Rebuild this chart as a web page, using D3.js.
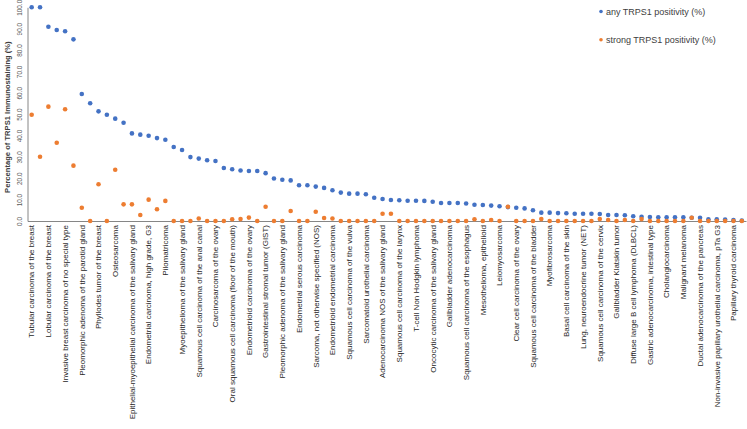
<!DOCTYPE html>
<html>
<head>
<meta charset="utf-8">
<script src="https://cdn.jsdelivr.net/npm/d3@7"></script>
<style>
  body { margin: 0; background: #fff; }
  svg { display: block; font-family: "Liberation Sans", Arial, sans-serif; }
</style>
</head>
<body>
<svg id="chart" width="747" height="429"></svg>
<script>
// Only every second category carries a visible label in the original chart
const shownLabels = [
  "Tubular carcinoma of the breast",
  "Lobular carcinoma of the breast",
  "Invasive breast carcinoma of no special type",
  "Pleomorphic adenoma of the parotid gland",
  "Phyllodes tumor of the breast",
  "Osteosarcoma",
  "Epithelial-myoepithelial carcinoma of the salivary gland",
  "Endometrial carcinoma, high grade, G3",
  "Pilomatricoma",
  "Myoepithelioma of the salivary gland",
  "Squamous cell carcinoma of the anal canal",
  "Carcinosarcoma of the ovary",
  "Oral squamous cell carcinoma (floor of the mouth)",
  "Endometrioid carcinoma of the ovary",
  "Gastrointestinal stromal tumor (GIST)",
  "Pleomorphic adenoma of the salivary gland",
  "Endometrial serous carcinoma",
  "Sarcoma, not otherwise specified (NOS)",
  "Endometrioid endometrial carcinoma",
  "Squamous cell carcinoma of the vulva",
  "Sarcomatoid urothelial carcinoma",
  "Adenocarcinoma NOS of the salivary gland",
  "Squamous cell carcinoma of the larynx",
  "T-cell Non Hodgkin lymphoma",
  "Oncocytic carcinoma of the salivary gland",
  "Gallbladder adenocarcinoma",
  "Squamous cell carcinoma of the esophagus",
  "Mesothelioma, epithelioid",
  "Leiomyosarcoma",
  "Clear cell carcinoma of the ovary",
  "Squamous cell carcinoma of the bladder",
  "Myofibrosarcoma",
  "Basal cell carcinoma of the skin",
  "Lung, neuroendocrine tumor (NET)",
  "Squamous cell carcinoma of the cervix",
  "Gallbladder Klatskin tumor",
  "Diffuse large B cell lymphoma (DLBCL)",
  "Gastric adenocarcinoma, intestinal type",
  "Cholangiocarcinoma",
  "Malignant melanoma",
  "Ductal adenocarcinoma of the pancreas",
  "Non-invasive papillary urothelial carcinoma, pTa G3",
  "Papillary thyroid carcinoma"
];

// any TRPS1 positivity (%)
const anyPos = [
  100, 100, 90.9, 89.4, 88.8, 85.0, 59.4, 55.1, 51.3, 49.7,
  47.9, 46.0, 41.0, 40.4, 39.9, 38.8, 38.0, 34.6, 33.2, 29.9,
  29.2, 28.4, 28.1, 24.8, 24.2, 23.6, 23.4, 23.4, 22.4, 19.9,
  19.3, 19.0, 16.7, 16.7, 16.1, 15.5, 14.4, 13.3, 12.8, 12.8,
  12.5, 10.9, 10.3, 9.8, 9.7, 9.5, 9.5, 9.4, 9.0, 8.4,
  8.4, 8.4, 8.2, 7.6, 7.5, 7.2, 6.9, 6.5, 6.2, 5.9,
  5.0, 3.9, 3.9, 3.7, 3.6, 3.4, 3.4, 3.4, 3.3, 2.8,
  2.8, 2.7, 2.2, 2.0, 1.9, 1.7, 1.7, 1.7, 1.7, 1.5,
  1.5, 0.8, 0.8, 0.7, 0.4, 0.2
];

// strong TRPS1 positivity (%)
const strongPos = [
  49.7, 30.1, 53.5, 36.6, 52.3, 25.9, 6.2, 0, 17.2, 0,
  24.0, 7.8, 7.8, 2.8, 10.0, 5.5, 9.4, 0, 0, 0,
  1.2, 0, 0, 0, 0.8, 0.9, 1.6, 0, 6.7, 0,
  0, 4.7, 0, 0, 4.3, 1.4, 1.2, 0, 0, 0,
  0, 0, 3.4, 3.4, 0, 0, 0, 0, 0, 0,
  0, 0, 0, 0.8, 0, 0.5, 0, 6.7, 0, 0,
  0, 0.9, 0, 0, 0, 0, 0, 0, 0.9, 0.5,
  0, 0.5, 0, 0.9, 0, 0, 0, 0, 0, 1.5,
  0, 0, 0, 0, 0, 0
];

const yTicks = d3.range(0, 101, 10);

const series = [
  { name: "any TRPS1 positivity (%)", values: anyPos, color: "#4472C4" },
  { name: "strong TRPS1 positivity (%)", values: strongPos, color: "#ED7D31" }
];

const svg = d3.select("#chart");
const plotLeft = 27.5, plotRight = 746, plotTop = 7.3, plotBottom = 221;

const x = d3.scaleBand()
  .domain(d3.range(anyPos.length))
  .range([plotLeft, plotRight])
  .padding(0);

const y = d3.scaleLinear()
  .domain([0, 100])
  .range([plotBottom, plotTop]);

// y axis
const yAxis = svg.append("g")
  .attr("transform", `translate(${plotLeft},0)`)
  .call(d3.axisLeft(y).tickValues(yTicks).tickSize(0).tickPadding(0).tickFormat(d3.format(".1f")));
yAxis.select(".domain").attr("stroke", "#868686").attr("stroke-width", 1);
yAxis.selectAll(".tick text")
  .attr("transform", "translate(-8,0) rotate(-90)")
  .attr("x", 0).attr("y", 0).attr("dy", "0.35em")
  .attr("text-anchor", "middle")
  .attr("fill", "#595959")
  .style("font-size", "6.4px");

// x axis
const xAxis = svg.append("g")
  .attr("transform", `translate(0,${plotBottom})`)
  .call(d3.axisBottom(x)
    .tickValues(d3.range(0, anyPos.length, 2))
    .tickSize(0)
    .tickFormat(i => shownLabels[i / 2]));
xAxis.select(".domain").attr("stroke", "#868686").attr("stroke-width", 1);
xAxis.selectAll(".tick text")
  .attr("transform", "rotate(-90)")
  .attr("x", -4).attr("y", 0).attr("dy", "0.35em")
  .attr("text-anchor", "end")
  .attr("fill", "#262626")
  .style("font-size", "8px");

// y title
svg.append("text")
  .attr("transform", `translate(7.5,${(plotTop + plotBottom) / 2 + 3}) rotate(-90)`)
  .attr("text-anchor", "middle")
  .attr("dy", "0.35em")
  .attr("fill", "#404040")
  .style("font-size", "7.6px")
  .style("font-weight", "bold")
  .text("Percentage of TRPS1 Immunostaining (%)");

// points
series.forEach(s => {
  svg.append("g")
    .selectAll("circle")
    .data(s.values)
    .join("circle")
    .attr("cx", (d, i) => x(i) + x.bandwidth() / 2)
    .attr("cy", d => y(d))
    .attr("r", 2.3)
    .attr("fill", s.color);
});

// legend
const legend = svg.append("g").attr("transform", "translate(601,11.5)");
series.forEach((s, i) => {
  const g = legend.append("g").attr("transform", `translate(0,${i * 28.3})`);
  g.append("circle").attr("r", 1.8).attr("fill", s.color);
  g.append("text")
    .attr("x", 5).attr("dy", "0.35em")
    .attr("fill", "#404040")
    .style("font-size", "9px")
    .text(s.name);
});
</script>
</body>
</html>
